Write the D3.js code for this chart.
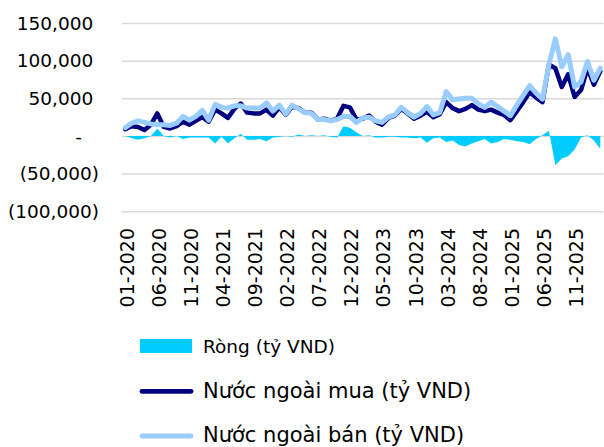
<!DOCTYPE html>
<html>
<head>
<meta charset="utf-8">
<script src="https://cdn.jsdelivr.net/npm/d3@7"></script>
<style>
  body { margin: 0; background: #fff; }
  svg text { font-family: "DejaVu Sans", sans-serif; fill: #000; }
</style>
</head>
<body>
<svg id="chart" width="604" height="447"></svg>
<script>
/* Giao dich khoi ngoai theo thang, 01-2020 -> 03-2026 (ty VND) */

// Months (categories), built like a calendar list
var months = [];
for (let yr = 2020; yr <= 2026; ++yr) {
  for (let m = 1; m <= 12; ++m) {
    if (yr == 2026 && m > 3) break;
    months.push((m < 10 ? "0" + m : "" + m) + "-" + yr);
  }
}

// Nuoc ngoai mua (buy)
var buyValues = [
  9000, 13000, 12000, 8000, 15000, 30000, 12000, 10000, 13000, 19000,
  15000, 20000, 25000, 19000, 35000, 30000, 24000, 36000, 43000, 31000,
  30000, 30000, 35000, 27000, 38000, 28000, 39000, 37000, 31000, 31000,
  22000, 23000, 20000, 23000, 40000, 38000, 22000, 23000, 27000, 19000,
  15000, 24000, 27000, 36000, 30000, 23000, 27000, 32000, 25000, 29000,
  45000, 37000, 33000, 36000, 41000, 35000, 33000, 35000, 31000, 28000,
  21000, 33000, 45000, 58000, 51000, 45000, 95000, 90000, 65000, 82000,
  52000, 61000, 90000, 68000, 86000
];

// Nuoc ngoai ban (sell)
var sellValues = [
  11000, 17000, 20000, 18000, 16000, 15000, 15000, 14000, 17000, 26000,
  21000, 26000, 34000, 21000, 42000, 38000, 37000, 40000, 40000, 37000,
  37000, 37000, 44000, 33000, 41000, 29000, 41000, 36000, 31000, 30000,
  22000, 22000, 20000, 22000, 26000, 26000, 18000, 24000, 25000, 20000,
  18000, 25000, 28000, 38000, 31000, 25000, 30000, 39000, 28000, 31000,
  59000, 48000, 49000, 50000, 50000, 43000, 38000, 45000, 39000, 33000,
  27000, 41000, 54000, 67000, 57000, 49000, 95000, 129000, 92000, 108000,
  65000, 72000, 99000, 74000, 90000
];

// Rong (net)
var netValues = [
  0, -3000, -5000, -3000, 0, 10000, 0, -2000, 0, -4000,
  -2000, -2000, -2000, -2000, -10000, -1000, -10000, -3000, 3000, -5000,
  -5000, -4000, -7000, -2000, -1000, 0, -1000, 2000, 0, 1000,
  0, 1000, -1000, -2000, 13000, 11000, 5000, 0, 1000, -2000,
  -2000, -1000, -1000, -2000, -2000, -3000, -2000, -9000, -3000, -2000,
  -8000, -6000, -12000, -14000, -10000, -7000, -4000, -10000, -8000, -4000,
  -5000, -7000, -8000, -11000, -4000, 1000, 7000, -39000, -30000, -27000,
  -18000, -2000, 1000, -6000, -17000
];

var yTicks = [-100000, -50000, 0, 50000, 100000, 150000];

var seriesNames = ["Ròng (tỷ VND)", "Nước ngoài mua (tỷ VND)", "Nước ngoài bán (tỷ VND)"];
var netColor = "#00ccff";
var buyColor = "#000080";
var sellColor = "#99ccff";

/******************************Scales*******************************/
var plotLeft = 122, plotRight = 603.5;

let x = d3.scaleBand()
  .domain(months)
  .range([plotLeft, plotRight]);

let y = d3.scaleLinear()
  .domain([-100000, 150000])
  .range([211.2, 23.1]);

function cx(m) { return x(m) + x.bandwidth() / 2; }

let svg = d3.select("svg#chart");

/******************************Y axis + gridlines*******************************/
let fmt = d3.format(",");
let yAxis = svg.append("g")
  .attr("transform", "translate(" + plotLeft + ",0)")
  .call(d3.axisLeft(y)
    .tickValues(yTicks)
    .tickSize(-(plotRight - plotLeft))
    .tickPadding(28.7)
    .tickFormat(v => v > 0 ? fmt(v) : (v < 0 ? "(" + fmt(-v) + ")" : "-")));

yAxis.select(".domain").remove();
yAxis.selectAll("line")
  .attr("stroke", "#d9d9d9")
  .attr("stroke-width", 1.5);
yAxis.selectAll("text")
  .attr("font-size", "18.5px")
  .attr("dy", "0.33em")
  // accounting style: negatives hang past the closing bracket, "-" sits left
  .attr("x", v => v < 0 ? -23 : (v == 0 ? -40 : -28.7));

/******************************X axis*******************************/
let xAxis = svg.append("g")
  .attr("transform", "translate(0,228)")
  .call(d3.axisBottom(x)
    .tickValues(months.filter((m, i) => i % 5 == 0))
    .tickSize(0));

xAxis.select(".domain").remove();
xAxis.selectAll("text")
  .attr("font-size", "19px")
  .attr("x", 0)
  .attr("y", 0)
  .attr("dy", null)
  .attr("text-anchor", "end")
  .attr("transform", "translate(8.4,0) rotate(-90)");

/******************************Series*******************************/
let area = d3.area()
  .x((d, i) => cx(months[i]))
  .y0(y(0))
  .y1(d => y(d));

svg.append("path")
  .datum(netValues)
  .attr("d", area)
  .attr("fill", netColor);

let line = d3.line()
  .x((d, i) => cx(months[i]))
  .y(d => y(d));

svg.append("path")
  .datum(buyValues)
  .attr("d", line)
  .attr("fill", "none")
  .attr("stroke", buyColor)
  .attr("stroke-width", 4.5)
  .attr("stroke-linejoin", "round")
  .attr("stroke-linecap", "round");

svg.append("path")
  .datum(sellValues)
  .attr("d", line)
  .attr("fill", "none")
  .attr("stroke", sellColor)
  .attr("stroke-width", 5)
  .attr("stroke-linejoin", "round")
  .attr("stroke-linecap", "round");

/******************************Legend*******************************/
let legend = svg.append("g");

legend.append("rect")
  .attr("x", 140).attr("y", 339)
  .attr("width", 52).attr("height", 14)
  .attr("fill", netColor);
legend.append("text")
  .attr("x", 203).attr("y", 352.5)
  .attr("font-size", "18.5px")
  .text(seriesNames[0]);

[[buyColor, 391.3, 397.7], [sellColor, 436, 442.2]].forEach((row, k) => {
  legend.append("line")
    .attr("x1", 142).attr("x2", 191)
    .attr("y1", row[1]).attr("y2", row[1])
    .attr("stroke", row[0])
    .attr("stroke-width", 4.8)
    .attr("stroke-linecap", "round");
  legend.append("text")
    .attr("x", 203).attr("y", row[2])
    .attr("font-size", "21px")
    .text(seriesNames[k + 1]);
});
</script>
</body>
</html>
